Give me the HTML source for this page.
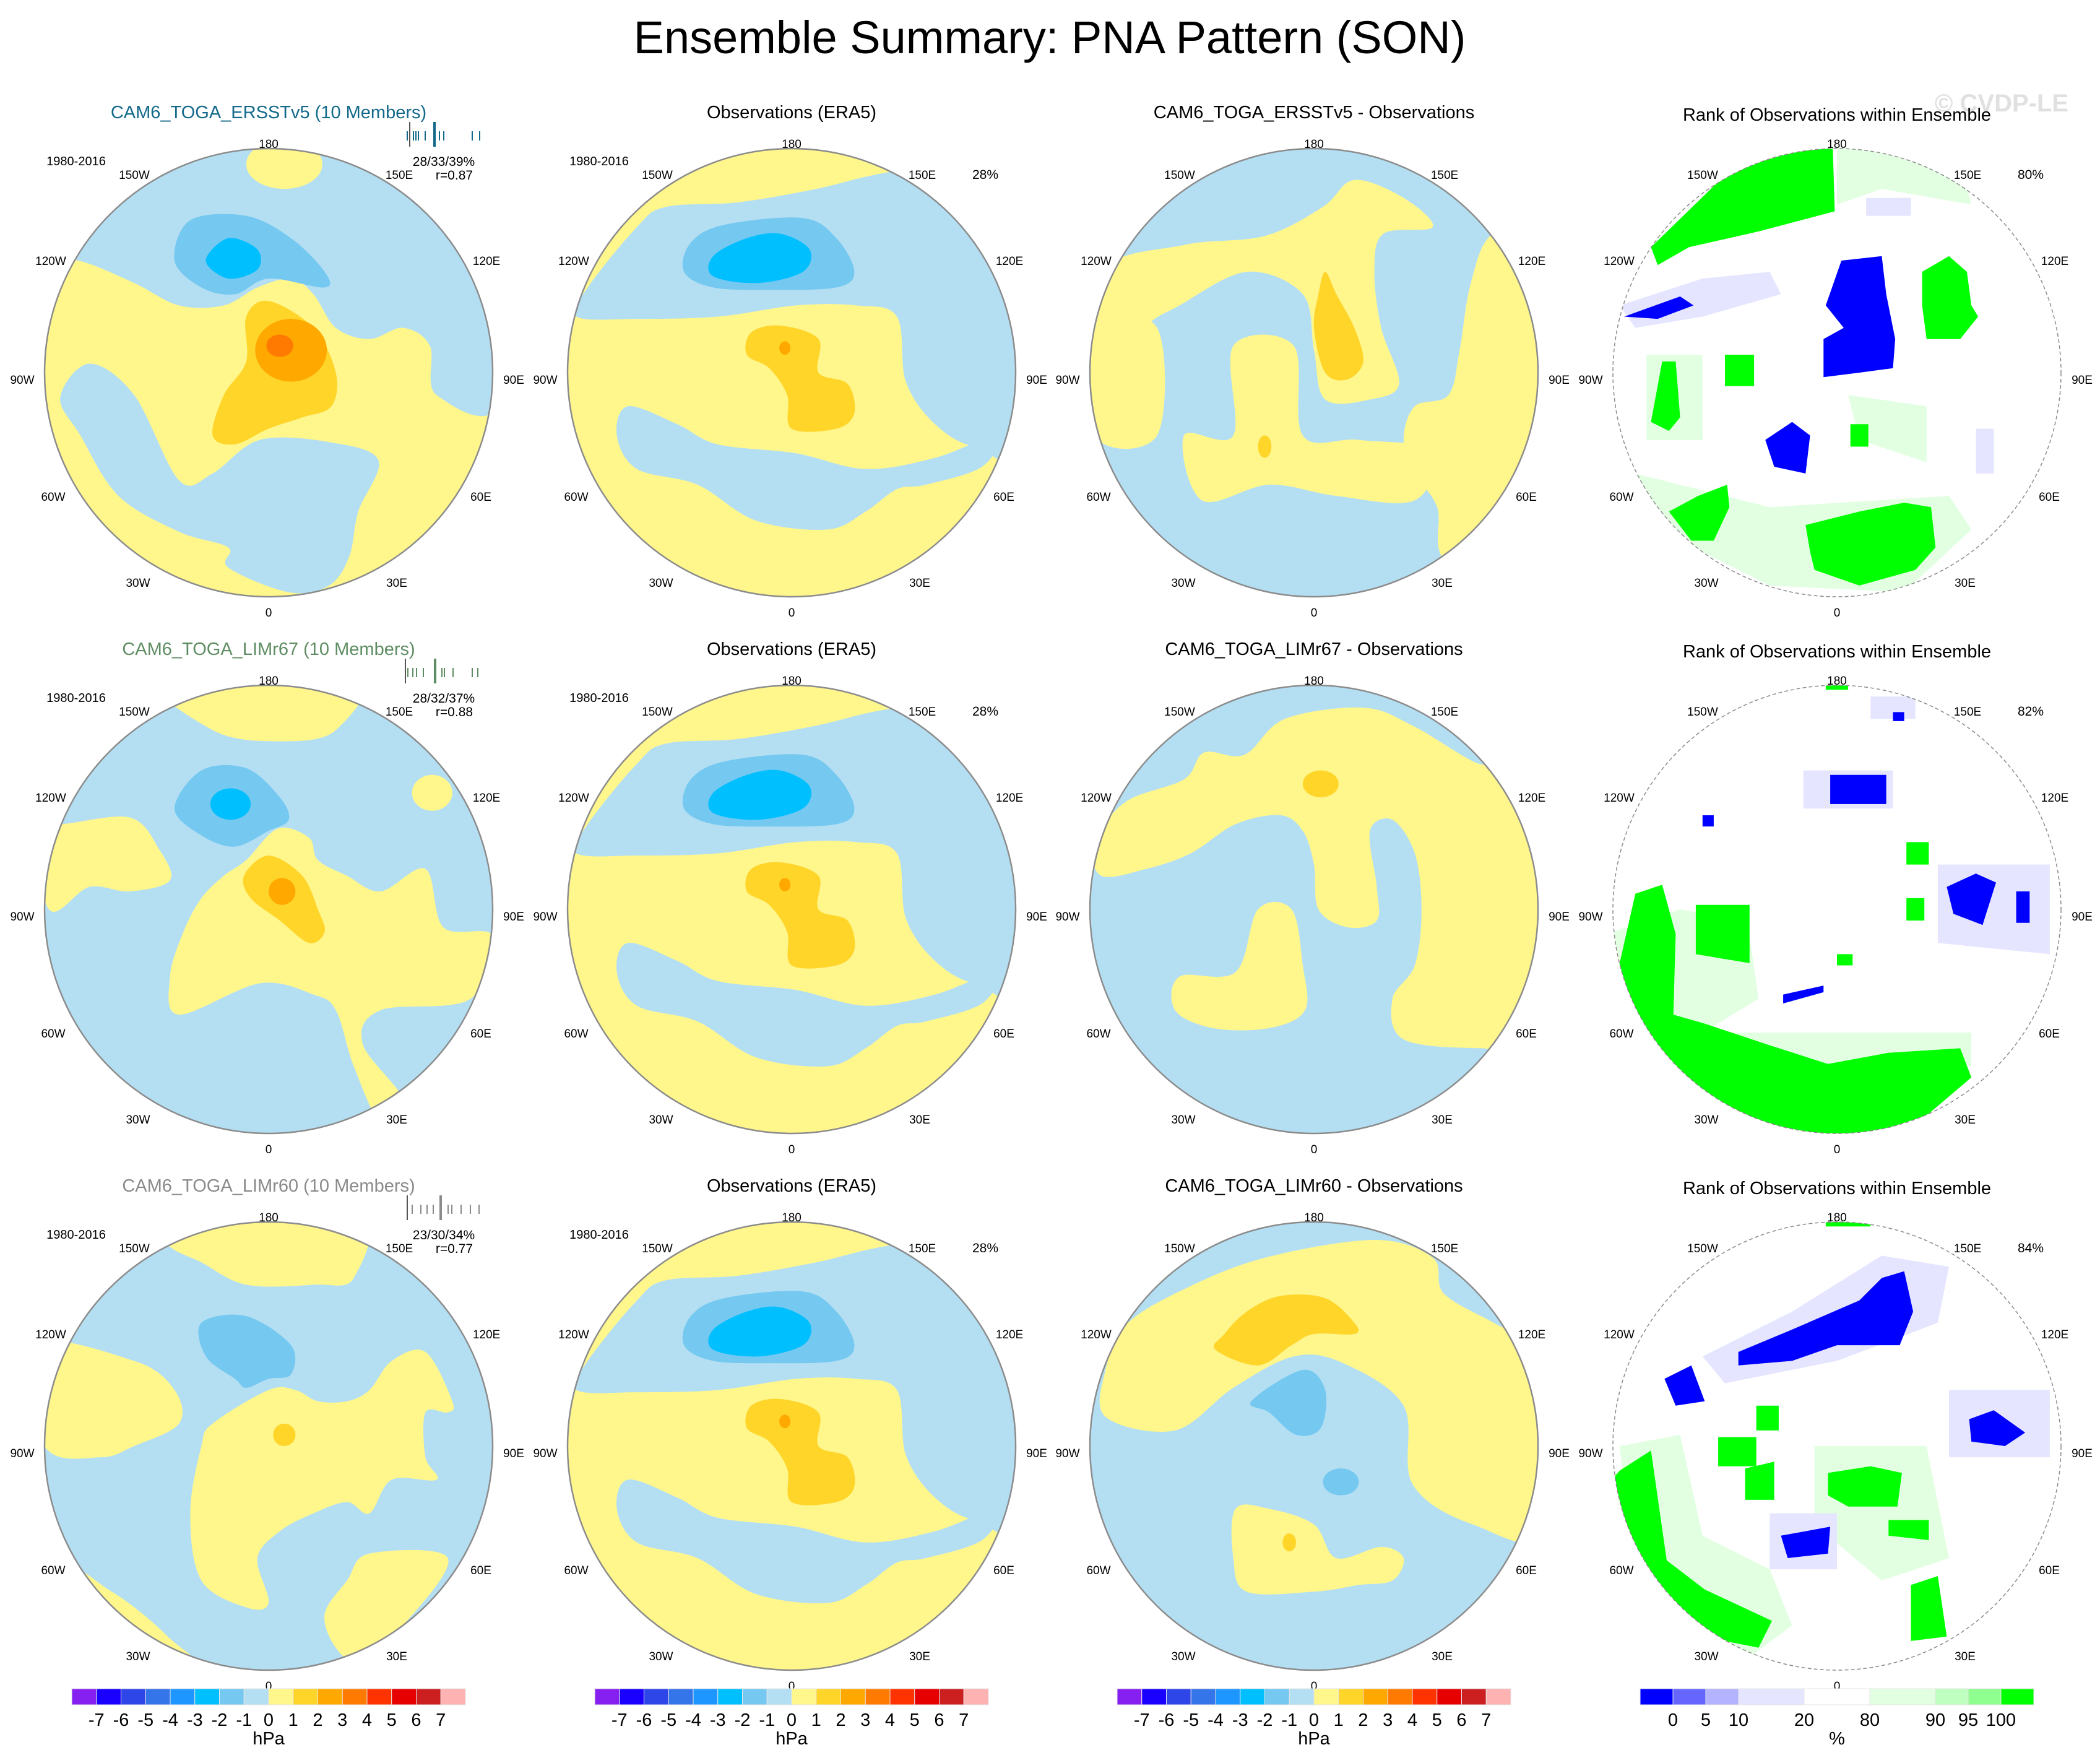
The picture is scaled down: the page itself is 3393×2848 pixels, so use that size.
<!DOCTYPE html>
<html><head><meta charset="utf-8"><title>Ensemble Summary: PNA Pattern (SON)</title>
<style>
html,body{margin:0;padding:0;background:#fff;}
svg{display:block;font-family:"Liberation Sans",Arial,sans-serif;}
</style></head>
<body>
<svg id="fig" xmlns="http://www.w3.org/2000/svg" width="3393" height="2848" viewBox="0 0 3393 2848">
<rect width="3393" height="2848" fill="#fff"/>
<text x="1696" y="86" font-size="74" text-anchor="middle" fill="#000">Ensemble Summary: PNA Pattern (SON)</text>
<text x="3234" y="180" font-size="40" font-weight="bold" text-anchor="middle" fill="#e0e0e0">© CVDP-LE</text>
<g id="panels"></g>
<g id="bars"></g>
</svg>
<script>
// ---- colour scale data ----
const hpaLabels = ["-7","-6","-5","-4","-3","-2","-1","0","1","2","3","4","5","6","7"];
const hpaColors = ["#8520f0","#1a00ff","#2e45e8","#3575ea","#1e96ff","#00bfff","#75c8f0","#b4dff3","#fff68c","#ffd52a","#ffa800","#ff7a00","#ff3300","#e60000","#cc1f1f","#ffb2b2"];
const rankLabels = ["0","5","10","20","80","90","95","100"];
const rankColors = ["#0000ff","#6666ff","#b3b3ff","#e5e5ff","#ffffff","#e2ffe2","#bfffbf","#8fff8f","#00ff00"];
const rankSpans = [1,1,1,2,2,2,1,1,1];
const levelColor = {b1:"#b4dff3",b2:"#75c8f0",b3:"#00bfff",y1:"#fff68c",y2:"#ffd52a",y3:"#ffa800",y4:"#ff7a00",R0:"#0000ff",R3:"#e5e5ff",G1:"#e2ffe2",G4:"#00ff00"};

// ---- panel layout ----
const colX = [434, 1279, 2123, 2968];
const rowY = [602, 1469, 2336];
const R = 362;

const rowTitles = ["CAM6_TOGA_ERSSTv5 (10 Members)","CAM6_TOGA_LIMr67 (10 Members)","CAM6_TOGA_LIMr60 (10 Members)"];
const rowTitleColors = ["#13698a","#5f8d63","#8a8a8a"];
const rowStats = ["28/33/39%","28/32/37%","23/30/34%"];
const rowCorr = ["r=0.87","r=0.88","r=0.77"];
const rankPct = ["80%","82%","84%"];
const diffTitles = ["CAM6_TOGA_ERSSTv5 - Observations","CAM6_TOGA_LIMr67 - Observations","CAM6_TOGA_LIMr60 - Observations"];
const memberTicks = [
 [662,702,658,668,672,676,687,710,717,763,775],
 [655,703,659,667,673,684,714,718,732,763,772],
 [658,712,666,680,690,700,724,730,745,760,774]
];

// ---- field shapes (normalized polar-map coords) ----
const obsShapes = [
 {l:"b1",p:[[-0.91,-0.38],[-0.69,-0.65],[-0.56,-0.74],[-0.24,-0.76],[0.11,-0.82],[0.47,-0.9],[1.05,-0.95],[1.05,0.3],[0.82,0.33],[0.64,0.23],[0.51,0.04],[0.47,-0.25],[0.29,-0.3],[0.02,-0.3],[-0.33,-0.25],[-0.69,-0.24],[-0.96,-0.25]]},
 {l:"b1",p:[[-0.73,0.15],[-0.51,0.23],[-0.33,0.32],[0.02,0.36],[0.33,0.43],[0.64,0.38],[0.92,0.28],[0.85,0.42],[0.6,0.5],[0.47,0.52],[0.33,0.62],[0.16,0.7],[-0.16,0.66],[-0.42,0.5],[-0.69,0.43],[-0.78,0.28]]},
 {l:"b2",p:[[-0.3,-0.66],[0.05,-0.69],[0.2,-0.6],[0.28,-0.45],[0.2,-0.38],[-0.1,-0.37],[-0.35,-0.38],[-0.48,-0.45],[-0.45,-0.58]]},
 {l:"b3",p:[[-0.05,-0.62],[0.08,-0.55],[0.05,-0.45],[-0.15,-0.4],[-0.35,-0.43],[-0.35,-0.52],[-0.2,-0.6]]},
 {l:"y2",p:[[-0.05,-0.21],[0.12,-0.15],[0.12,0.0],[0.25,0.05],[0.28,0.18],[0.2,0.25],[0.0,0.25],[-0.02,0.1],[-0.1,-0.02],[-0.2,-0.08],[-0.18,-0.18]]},
 {l:"y3",e:[-0.03,-0.11,0.025,0.03]}
];
const fields = [
 [ // row 1
  {base:"y1",s:[
   {l:"b1",p:[[-1.05,-0.5],[-0.85,-0.5],[-0.6,-0.4],[-0.4,-0.3],[-0.2,-0.3],[-0.05,-0.38],[0.1,-0.42],[0.2,-0.35],[0.3,-0.2],[0.45,-0.15],[0.6,-0.2],[0.72,-0.12],[0.75,0.1],[1.05,0.1],[1.05,-1.05],[-1.05,-1.05]]},
   {l:"b1",p:[[-0.8,-0.04],[-0.6,0.1],[-0.4,0.48],[-0.25,0.45],[-0.04,0.3],[0.27,0.31],[0.49,0.39],[0.4,0.62],[0.36,0.82],[0.27,0.95],[0.09,0.98],[-0.18,0.87],[-0.18,0.78],[-0.4,0.71],[-0.67,0.55],[-0.84,0.28],[-0.93,0.11]]},
   {l:"y1",e:[0.07,-0.93,0.17,0.11]},
   {l:"b2",p:[[-0.35,-0.68],[-0.1,-0.7],[0.1,-0.6],[0.25,-0.45],[0.25,-0.38],[0.0,-0.42],[-0.15,-0.35],[-0.3,-0.38],[-0.42,-0.5]]},
   {l:"b3",p:[[-0.18,-0.6],[-0.05,-0.55],[-0.05,-0.46],[-0.18,-0.42],[-0.28,-0.5]]},
   {l:"y2",p:[[0.0,-0.32],[0.2,-0.2],[0.3,0.0],[0.28,0.15],[0.15,0.2],[0.0,0.25],[-0.15,0.32],[-0.25,0.28],[-0.2,0.1],[-0.1,-0.05],[-0.1,-0.25]]},
   {l:"y3",e:[0.1,-0.1,0.16,0.14]},
   {l:"y4",e:[0.05,-0.12,0.06,0.05]}
  ]},
  {base:"y1",s:obsShapes},
  {base:"b1",s:[
   {l:"y1",p:[[-0.95,-0.45],[-0.58,-0.57],[-0.22,-0.61],[0.04,-0.74],[0.18,-0.86],[0.4,-0.78],[0.53,-0.65],[0.31,-0.62],[0.27,-0.45],[0.3,-0.2],[0.38,0.05],[0.25,0.12],[0.05,0.12],[0.0,-0.1],[-0.05,-0.35],[-0.3,-0.45],[-0.6,-0.3],[-0.75,-0.2],[-0.8,0.0],[-0.98,0.0]]},
   {l:"y1",p:[[-0.98,-0.2],[-0.7,-0.2],[-0.7,0.28],[-0.98,0.28]]},
   {l:"y1",p:[[-0.58,0.28],[-0.36,0.28],[-0.36,-0.12],[-0.09,-0.12],[-0.05,0.28],[0.2,0.3],[0.53,0.35],[0.45,0.57],[0.1,0.55],[-0.2,0.5],[-0.5,0.57]]},
   {l:"y1",p:[[0.8,-0.62],[1.05,-0.62],[1.05,0.9],[0.6,0.85],[0.55,0.6],[0.45,0.45],[0.4,0.3],[0.45,0.15],[0.6,0.1],[0.65,-0.1],[0.7,-0.4]]},
   {l:"y2",p:[[0.05,-0.45],[0.1,-0.35],[0.18,-0.2],[0.22,-0.05],[0.15,0.03],[0.05,0.0],[0.0,-0.2],[0.02,-0.35]]},
   {l:"y2",e:[-0.22,0.33,0.03,0.05]}
  ]},
  {base:"R4",s:[
   {l:"G1",p:[[0.0,-1.05],[0.55,-0.95],[0.6,-0.75],[0.2,-0.82],[0.0,-0.75]]},
   {l:"R3",p:[[0.13,-0.78],[0.33,-0.78],[0.33,-0.7],[0.13,-0.7]]},
   {l:"R3",p:[[-0.97,-0.3],[-0.6,-0.42],[-0.3,-0.45],[-0.25,-0.35],[-0.6,-0.25],[-0.9,-0.2]]},
   {l:"G1",p:[[-0.85,-0.08],[-0.6,-0.08],[-0.6,0.3],[-0.85,0.3]]},
   {l:"G1",p:[[-0.9,0.45],[-0.3,0.6],[0.5,0.55],[0.6,0.7],[0.3,0.98],[-0.3,0.95],[-0.8,0.7]]},
   {l:"G1",p:[[0.05,0.1],[0.4,0.15],[0.4,0.4],[0.1,0.3]]},
   {l:"R3",p:[[0.62,0.25],[0.7,0.25],[0.7,0.45],[0.62,0.45]]},
   {l:"G4",p:[[-0.83,-0.56],[-0.46,-0.92],[-0.02,-1.05],[-0.01,-0.72],[-0.35,-0.63],[-0.66,-0.56],[-0.8,-0.48]]},
   {l:"R0",p:[[0.02,-0.5],[0.2,-0.52],[0.22,-0.35],[0.26,-0.15],[0.25,-0.02],[0.1,0.0],[-0.06,0.02],[-0.06,-0.15],[0.03,-0.2],[-0.05,-0.3]]},
   {l:"G4",p:[[0.38,-0.45],[0.5,-0.52],[0.58,-0.45],[0.6,-0.3],[0.63,-0.25],[0.55,-0.15],[0.4,-0.15],[0.38,-0.3]]},
   {l:"R0",p:[[-0.95,-0.25],[-0.7,-0.34],[-0.64,-0.3],[-0.8,-0.24]]},
   {l:"R0",p:[[-0.32,0.3],[-0.2,0.22],[-0.12,0.28],[-0.14,0.45],[-0.28,0.42]]},
   {l:"G4",p:[[-0.78,-0.05],[-0.72,-0.05],[-0.7,0.2],[-0.75,0.26],[-0.83,0.22]]},
   {l:"G4",p:[[-0.5,-0.08],[-0.37,-0.08],[-0.37,0.06],[-0.5,0.06]]},
   {l:"G4",p:[[0.06,0.23],[0.14,0.23],[0.14,0.33],[0.06,0.33]]},
   {l:"G4",p:[[-0.75,0.62],[-0.62,0.55],[-0.49,0.5],[-0.48,0.6],[-0.55,0.75],[-0.65,0.75]]},
   {l:"G4",p:[[-0.14,0.68],[0.1,0.62],[0.3,0.58],[0.42,0.6],[0.44,0.78],[0.35,0.88],[0.1,0.95],[-0.1,0.88],[-0.12,0.8]]}
  ]}
 ],
 [ // row 2
  {base:"b1",s:[
   {l:"y1",p:[[-0.5,-1.05],[0.38,-1.05],[0.3,-0.8],[0.05,-0.75],[-0.25,-0.8]]},
   {l:"y1",e:[0.73,-0.52,0.09,0.08]},
   {l:"y1",p:[[-0.93,-0.38],[-0.62,-0.41],[-0.49,-0.27],[-0.44,-0.13],[-0.62,-0.08],[-0.8,-0.1],[-0.98,0.0],[-1.05,-0.4]]},
   {l:"y1",p:[[-0.1,-0.22],[0.04,-0.36],[0.18,-0.32],[0.22,-0.22],[0.35,-0.15],[0.5,-0.08],[0.7,-0.18],[0.78,0.08],[1.0,0.12],[0.9,0.4],[0.5,0.45],[0.42,0.6],[0.6,0.85],[0.5,0.95],[0.38,0.7],[0.3,0.45],[0.2,0.38],[-0.04,0.33],[-0.4,0.47],[-0.44,0.3],[-0.38,0.1],[-0.3,-0.05],[-0.2,-0.15]]},
   {l:"b2",p:[[-0.3,-0.62],[-0.1,-0.63],[0.05,-0.5],[0.09,-0.4],[0.0,-0.35],[-0.15,-0.28],[-0.3,-0.33],[-0.42,-0.45]]},
   {l:"b3",e:[-0.17,-0.47,0.09,0.07]},
   {l:"y2",p:[[0.0,-0.24],[0.15,-0.15],[0.22,0.0],[0.25,0.1],[0.18,0.15],[0.05,0.05],[-0.08,-0.05],[-0.11,-0.15]]},
   {l:"y3",e:[0.06,-0.08,0.06,0.06]}
  ]},
  {base:"y1",s:obsShapes},
  {base:"b1",s:[
   {l:"y1",p:[[-0.84,-0.48],[-0.58,-0.58],[-0.49,-0.7],[-0.31,-0.69],[-0.13,-0.85],[0.22,-0.9],[0.44,-0.82],[0.71,-0.66],[1.05,-0.5],[1.05,0.6],[0.75,0.62],[0.4,0.58],[0.35,0.4],[0.45,0.25],[0.48,0.0],[0.45,-0.25],[0.35,-0.4],[0.25,-0.35],[0.28,-0.1],[0.28,0.05],[0.15,0.08],[0.02,0.0],[0.0,-0.2],[-0.05,-0.35],[-0.15,-0.42],[-0.35,-0.38],[-0.55,-0.25],[-0.75,-0.18],[-0.95,-0.15],[-0.98,-0.3]]},
   {l:"y1",p:[[-0.6,0.3],[-0.35,0.28],[-0.25,0.0],[-0.1,0.0],[-0.05,0.25],[-0.04,0.45],[-0.2,0.53],[-0.45,0.53],[-0.62,0.45]]},
   {l:"y2",e:[0.03,-0.56,0.08,0.06]}
  ]},
  {base:"R4",s:[
   {l:"G1",p:[[-1.0,0.1],[-0.7,0.0],[-0.4,0.05],[-0.35,0.4],[-0.6,0.55],[-0.95,0.4]]},
   {l:"G1",p:[[-0.5,0.55],[0.6,0.55],[0.6,0.7],[-0.5,0.7]]},
   {l:"R3",p:[[-0.15,-0.62],[0.25,-0.62],[0.25,-0.45],[-0.15,-0.45]]},
   {l:"R3",p:[[0.45,-0.2],[0.95,-0.2],[0.95,0.2],[0.45,0.15]]},
   {l:"R3",p:[[0.15,-0.95],[0.35,-0.95],[0.35,-0.85],[0.15,-0.85]]},
   {l:"G4",p:[[-0.97,0.24],[-0.9,-0.07],[-0.78,-0.11],[-0.72,0.11],[-0.73,0.47],[-0.59,0.51],[-0.32,0.6],[-0.04,0.69],[0.23,0.64],[0.55,0.62],[0.6,0.75],[0.4,0.92],[0.0,1.05],[-0.5,0.95],[-0.85,0.6],[-1.05,0.3]]},
   {l:"G4",p:[[-0.63,-0.02],[-0.39,-0.02],[-0.39,0.24],[-0.63,0.2]]},
   {l:"G4",p:[[0.31,-0.3],[0.41,-0.3],[0.41,-0.2],[0.31,-0.2]]},
   {l:"G4",p:[[0.31,-0.05],[0.39,-0.05],[0.39,0.05],[0.31,0.05]]},
   {l:"G4",p:[[-0.0,0.2],[0.07,0.2],[0.07,0.25],[-0.0,0.25]]},
   {l:"G4",p:[[-0.05,-1.02],[0.05,-1.02],[0.05,-0.98],[-0.05,-0.98]]},
   {l:"R0",p:[[-0.03,-0.6],[0.22,-0.6],[0.22,-0.47],[-0.03,-0.47]]},
   {l:"R0",p:[[0.25,-0.88],[0.3,-0.88],[0.3,-0.84],[0.25,-0.84]]},
   {l:"R0",p:[[0.49,-0.1],[0.62,-0.16],[0.71,-0.12],[0.65,0.07],[0.52,0.02]]},
   {l:"R0",p:[[0.8,-0.08],[0.86,-0.08],[0.86,0.06],[0.8,0.06]]},
   {l:"R0",p:[[-0.24,0.38],[-0.06,0.34],[-0.06,0.37],[-0.24,0.42]]},
   {l:"R0",p:[[-0.6,-0.42],[-0.55,-0.42],[-0.55,-0.37],[-0.6,-0.37]]}
  ]}
 ],
 [ // row 3
  {base:"b1",s:[
   {l:"y1",p:[[-0.5,-1.05],[0.38,-1.05],[0.38,-0.75],[0.2,-0.72],[-0.1,-0.72],[-0.3,-0.82],[-0.45,-0.9]]},
   {l:"y1",p:[[-1.05,-0.45],[-0.6,-0.38],[-0.42,-0.25],[-0.4,-0.1],[-0.6,0.0],[-0.75,0.05],[-1.0,0.0]]},
   {l:"y1",p:[[0.0,-0.25],[0.12,-0.25],[0.22,-0.2],[0.35,-0.2],[0.45,-0.25],[0.55,-0.38],[0.7,-0.42],[0.82,-0.2],[0.8,-0.15],[0.7,-0.15],[0.7,0.05],[0.75,0.15],[0.55,0.15],[0.45,0.3],[0.35,0.25],[0.2,0.3],[0.05,0.38],[-0.05,0.5],[0.0,0.7],[-0.1,0.72],[-0.3,0.6],[-0.35,0.3],[-0.3,0.0],[-0.25,-0.1]]},
   {l:"y1",p:[[0.45,0.48],[0.8,0.5],[0.6,0.8],[0.4,0.95],[0.3,0.9],[0.25,0.75],[0.35,0.6]]},
   {l:"y1",p:[[-0.95,0.55],[-0.7,0.65],[-0.45,0.85],[-0.3,1.05],[-1.05,1.05]]},
   {l:"b2",p:[[-0.3,-0.55],[-0.1,-0.58],[0.1,-0.45],[0.1,-0.32],[0.0,-0.3],[-0.1,-0.26],[-0.15,-0.3],[-0.28,-0.4]]},
   {l:"y2",e:[0.07,-0.05,0.05,0.05]}
  ]},
  {base:"y1",s:obsShapes},
  {base:"b1",s:[
   {l:"y1",p:[[-0.84,-0.54],[-0.58,-0.7],[-0.22,-0.84],[0.27,-0.92],[0.53,-0.84],[0.58,-0.68],[0.82,-0.54],[1.05,-0.4],[1.05,0.38],[0.71,0.35],[0.44,0.17],[0.4,-0.18],[0.13,-0.37],[-0.09,-0.4],[-0.36,-0.26],[-0.62,-0.07],[-0.93,-0.13],[-0.93,-0.34]]},
   {l:"y1",p:[[-0.35,0.28],[-0.2,0.28],[0.0,0.35],[0.1,0.5],[0.3,0.45],[0.4,0.5],[0.35,0.6],[0.2,0.62],[0.0,0.65],[-0.3,0.65],[-0.36,0.5]]},
   {l:"y2",p:[[-0.15,-0.67],[0.05,-0.66],[0.18,-0.55],[0.18,-0.5],[0.0,-0.5],[-0.1,-0.45],[-0.25,-0.36],[-0.44,-0.43],[-0.4,-0.5],[-0.3,-0.6]]},
   {l:"b2",p:[[-0.05,-0.34],[0.05,-0.25],[0.03,-0.08],[-0.08,-0.05],[-0.2,-0.15],[-0.28,-0.2]]},
   {l:"b2",e:[0.12,0.16,0.08,0.06]},
   {l:"y2",e:[-0.11,0.43,0.03,0.04]}
  ]},
  {base:"R4",s:[
   {l:"R3",p:[[-0.6,-0.4],[-0.2,-0.6],[0.2,-0.85],[0.5,-0.8],[0.45,-0.55],[0.0,-0.38],[-0.5,-0.28]]},
   {l:"G1",p:[[-0.97,0.0],[-0.7,-0.05],[-0.6,0.4],[-0.3,0.55],[-0.2,0.8],[-0.4,0.95],[-0.9,0.6]]},
   {l:"G1",p:[[-0.1,0.0],[0.4,0.0],[0.5,0.5],[0.2,0.6],[-0.1,0.35]]},
   {l:"R3",p:[[0.5,-0.25],[0.95,-0.25],[0.95,0.05],[0.5,0.05]]},
   {l:"R3",p:[[-0.3,0.3],[0.0,0.3],[0.0,0.55],[-0.3,0.55]]},
   {l:"R0",p:[[-0.44,-0.42],[-0.2,-0.52],[0.1,-0.65],[0.2,-0.75],[0.3,-0.78],[0.34,-0.6],[0.28,-0.45],[0.0,-0.45],[-0.2,-0.38],[-0.44,-0.36]]},
   {l:"G4",p:[[-0.97,0.11],[-0.83,0.02],[-0.76,0.51],[-0.59,0.64],[-0.29,0.78],[-0.35,0.9],[-0.6,0.85],[-0.85,0.55],[-1.05,0.2]]},
   {l:"R0",p:[[-0.25,0.4],[-0.03,0.36],[-0.04,0.48],[-0.22,0.5]]},
   {l:"G4",p:[[-0.04,0.12],[0.15,0.09],[0.29,0.12],[0.27,0.27],[0.05,0.27],[-0.04,0.22]]},
   {l:"G4",p:[[0.33,0.62],[0.45,0.58],[0.49,0.85],[0.33,0.87]]},
   {l:"G4",p:[[0.23,0.33],[0.41,0.33],[0.41,0.42],[0.23,0.4]]},
   {l:"G4",p:[[-0.53,-0.04],[-0.36,-0.04],[-0.36,0.09],[-0.53,0.09]]},
   {l:"G4",p:[[-0.41,0.1],[-0.28,0.07],[-0.28,0.24],[-0.41,0.24]]},
   {l:"G4",p:[[-0.36,-0.18],[-0.26,-0.18],[-0.26,-0.07],[-0.36,-0.07]]},
   {l:"R0",p:[[0.59,-0.12],[0.7,-0.16],[0.84,-0.06],[0.75,0.0],[0.6,-0.02]]},
   {l:"R0",p:[[-0.77,-0.3],[-0.65,-0.36],[-0.59,-0.2],[-0.72,-0.18]]},
   {l:"G4",p:[[-0.05,-1.03],[0.15,-1.03],[0.15,-0.98],[-0.05,-0.98]]}
  ]}
 ]
];

const lonLabels = ["180","150E","120E","90E","60E","30E","0","30W","60W","90W","120W","150W"];
const lonOffsets = [[0,-370],[211,-320],[352,-181],[396,11],[343,200],[207,339],[0,387],[-211,339],[-348,200],[-398,11],[-352,-181],[-217,-320]];

const NS = "http://www.w3.org/2000/svg";
function mk(tag, attrs, parent){
  const e = document.createElementNS(NS, tag);
  for (const k in attrs) e.setAttribute(k, attrs[k]);
  if (parent) parent.appendChild(e);
  return e;
}
function smoothPath(pts, cx, cy){
  const P = pts.map(p=>[cx+p[0]*R, cy+p[1]*R]);
  const n = P.length;
  let d = "M"+P[0][0].toFixed(1)+","+P[0][1].toFixed(1);
  for (let i=0;i<n;i++){
    const p0=P[(i-1+n)%n], p1=P[i], p2=P[(i+1)%n], p3=P[(i+2)%n];
    const c1=[p1[0]+(p2[0]-p0[0])/6, p1[1]+(p2[1]-p0[1])/6];
    const c2=[p2[0]-(p3[0]-p1[0])/6, p2[1]-(p3[1]-p1[1])/6];
    d += " C"+c1[0].toFixed(1)+","+c1[1].toFixed(1)+" "+c2[0].toFixed(1)+","+c2[1].toFixed(1)+" "+p2[0].toFixed(1)+","+p2[1].toFixed(1);
  }
  return d+"Z";
}
function rectPath(pts, cx, cy){
  return "M"+pts.map(p=>(cx+p[0]*R).toFixed(1)+","+(cy+p[1]*R).toFixed(1)).join(" L")+"Z";
}

const panels = document.getElementById("panels");
for (let r=0;r<3;r++){
  for (let c=0;c<4;c++){
    const cx = colX[c], cy = rowY[r];
    const g = mk("g", {}, panels);
    
    
    const cp = mk("clipPath", {id:"clip"+r+c}, g);
    mk("circle", {cx:cx, cy:cy, r:R}, cp);
    const field = fields[r][c];
    const fg = mk("g", {"clip-path":"url(#clip"+r+c+")"}, g);
    const baseCol = field.base==="R4" ? "#ffffff" : levelColor[field.base];
    const bg = mk("rect", {x:cx-R, y:cy-R, width:2*R, height:2*R, fill:baseCol}, fg);
    
    
    const isRank = c===3;
    field.s.forEach(sh=>{
      let el;
      if (sh.e){
        el = mk("ellipse", {cx:cx+sh.e[0]*R, cy:cy+sh.e[1]*R, rx:sh.e[2]*R, ry:sh.e[3]*R, fill:levelColor[sh.l]}, fg);
      } else {
        el = mk("path", {d: isRank ? rectPath(sh.p,cx,cy) : smoothPath(sh.p,cx,cy), fill:levelColor[sh.l]}, fg);
      }
      
      
    });
    const border = mk("circle", {cx:cx, cy:cy, r:R, fill:"none", stroke:"#8c8c8c", "stroke-width": isRank?1.5:2.5, "stroke-dasharray": isRank?"6,4":"none"}, g);
    
    
    lonLabels.forEach((lab,i)=>{
      const t = mk("text", {x:cx+lonOffsets[i][0], y:cy+lonOffsets[i][1]+7, "font-size":19, "text-anchor":"middle", fill:"#000"}, g);
      t.textContent = lab;
      
      
    });
    // titles
    let title, tcol="#000", ty = cy-421+10;
    if (c===0){ title = rowTitles[r]; tcol = rowTitleColors[r]; }
    else if (c===1){ title = "Observations (ERA5)"; }
    else if (c===2){ title = diffTitles[r]; }
    else { title = "Rank of Observations within Ensemble"; ty = cy-407; }
    const tt = mk("text", {x:cx, y:ty, "font-size":29, "text-anchor":"middle", fill:tcol}, g);
    tt.textContent = title;
    
    
    if (c<=1){
      const yr = mk("text", {x:cx-311, y:cy-342+7, "font-size":20, "text-anchor":"middle", fill:"#000"}, g);
      yr.textContent = "1980-2016";
      
      
    }
    if (c===0){
      const st = mk("text", {x:cx+283, y:cy-342+8, "font-size":21, "text-anchor":"middle", fill:"#000"}, g);
      st.textContent = rowStats[r];
      
      
      const rc = mk("text", {x:cx+300, y:cy-320+8, "font-size":21, "text-anchor":"middle", fill:"#000"}, g);
      rc.textContent = rowCorr[r];
      
      
      memberTicks[r].forEach((x,i)=>{
        const tall = i<2;
        const ln = mk("line", {x1:x, x2:x, y1: cy-(tall?405:390), y2: cy-(tall?365:375), stroke: i===0?"#555":rowTitleColors[r], "stroke-width": i===1?4:2}, g);
        
        
      });
    }
    if (c===1 || c===3){
      const pc = mk("text", {x:cx+313, y:cy-320+7, "font-size":21, "text-anchor":"middle", fill:"#000"}, g);
      pc.textContent = c===1 ? "28%" : rankPct[r];
      
      
    }
  }
}

// ---- colour bars ----
const bars = document.getElementById("bars");
const barW = 636, barY = 2728, barH = 26;
for (let c=0;c<3;c++){
  const x0 = colX[c]-barW/2;
  const g = mk("g", {}, bars);
  
  
  const cw = barW/hpaColors.length;
  hpaColors.forEach((col,i)=>{
    const rc = mk("rect", {x:x0+i*cw, y:barY, width:cw, height:barH, fill:col, stroke:"#e6e6e6", "stroke-width":1}, g);
    
    
  });
  hpaLabels.forEach((lab,i)=>{
    const t = mk("text", {x:x0+(i+1)*cw, y:2788, "font-size":29, "text-anchor":"middle", fill:"#000"}, g);
    t.textContent = lab;
    
    
  });
  const u = mk("text", {x:colX[c], y:2818, "font-size":29, "text-anchor":"middle", fill:"#000"}, g);
  u.textContent = "hPa";
  
  
}
{
  const x0 = colX[3]-barW/2;
  const g = mk("g", {}, bars);
  
  
  const total = rankSpans.reduce((a,b)=>a+b,0);
  const unit = barW/total;
  let acc = 0;
  const edges = [];
  rankColors.forEach((col,i)=>{
    const rc = mk("rect", {x:x0+acc*unit, y:barY, width:rankSpans[i]*unit, height:barH, fill:col, stroke:"#e6e6e6", "stroke-width":1}, g);
    
    
    acc += rankSpans[i];
    edges.push(acc);
  });
  rankLabels.forEach((lab,i)=>{
    const t = mk("text", {x:x0+edges[i]*unit, y:2788, "font-size":29, "text-anchor":"middle", fill:"#000"}, g);
    t.textContent = lab;
    
    
  });
  const u = mk("text", {x:colX[3], y:2818, "font-size":29, "text-anchor":"middle", fill:"#000"}, g);
  u.textContent = "%";
  
  
}
</script>
</body></html>
